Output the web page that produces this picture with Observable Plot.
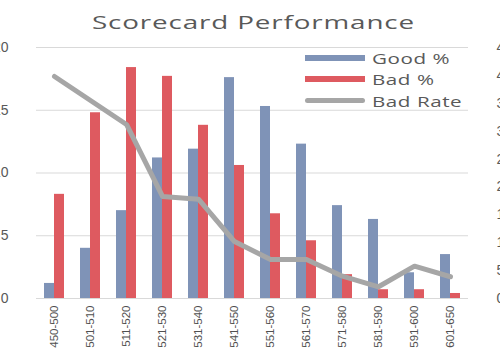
<!DOCTYPE html>
<html>
<head>
<meta charset="utf-8">
<script src="https://cdn.jsdelivr.net/npm/d3@7"></script>
<script src="https://cdn.jsdelivr.net/npm/@observablehq/plot@0.6"></script>
<style>
  html, body { margin: 0; padding: 0; background: #fff; overflow: hidden; }
  #wrap { position: relative; width: 500px; height: 350px; font-family: "Open Sans", sans-serif; }
  #titlebox { height: 36px; position: relative; }
  #title { position: absolute; left: 92px; top: 8px; font-size: 19px; letter-spacing: 0.6px; color: #595959; white-space: nowrap; transform-origin: left top; line-height: 28px; }
  #legend { position: absolute; left: 305px; top: 47px; font-size: 15px; color: #595959; white-space: nowrap; }
  .li { display: flex; align-items: center; height: 21.5px; }
  .sw { width: 60px; margin-right: 7px; flex: none; }
  .lt { display: inline-block; transform-origin: left center; letter-spacing: 0.4px; }
  svg { display: block; }
</style>
</head>
<body>
<div id="wrap">
  <div id="titlebox"><span id="title">Scorecard Performance</span></div>
  <div id="legend"></div>
  <div id="chart"></div>
</div>
<script>
const categories = ["450-500","501-510","511-520","521-530","531-540","541-550","551-560","561-570","571-580","581-590","591-600","601-650"];
const goodPct = [1.2, 4.0, 7.0, 11.2, 11.9, 17.6, 15.3, 12.3, 7.4, 6.3, 2.05, 3.5];
const badPct  = [8.3, 14.8, 18.4, 17.7, 13.8, 10.6, 6.75, 4.6, 1.9, 0.7, 0.7, 0.4];
const badRate = [39.8, 35.5, 31.2, 18.3, 17.8, 10.2, 7.0, 7.0, 4.0, 2.1, 5.8, 3.9];
const leftTicks = [0, 5, 10, 15, 20];
const rightTicks = [0, 5, 10, 15, 20, 25, 30, 35, 40, 45];
const seriesNames = ["Good %", "Bad %", "Bad Rate"];
const colors = ["#7f93b7", "#de5a60", "#a6a6a6"];

const leftMax = 20, rightMax = 45;
const toLeft = v => v * leftMax / rightMax;

const rows = categories.map((c, i) => ({cat: c, good: goodPct[i], bad: badPct[i], rate: badRate[i]}));

const chart = Plot.plot({
  width: 500,
  height: 314,
  marginLeft: 36,
  marginRight: 32,
  marginTop: 11,
  marginBottom: 52,
  style: {fontFamily: "Liberation Sans, Arial, sans-serif", color: "#595959", overflow: "visible"},
  x: {type: "band", domain: categories, paddingInner: 0.44, paddingOuter: 0.22, axis: null},
  y: {domain: [0, leftMax], axis: null},
  marks: [
    Plot.ruleY(leftTicks, {stroke: "#d9d9d9", strokeWidth: 1.2}),
    Plot.barY(rows, {x: "cat", y: "good", fill: colors[0], insetRight: 10}),
    Plot.barY(rows, {x: "cat", y: "bad", fill: colors[1], insetLeft: 10}),
    Plot.lineY(rows, {x: "cat", y: d => toLeft(d.rate), stroke: colors[2], strokeWidth: 5, strokeLinejoin: "round", strokeLinecap: "round"}),
    Plot.axisY(leftTicks, {anchor: "left", tickSize: 0, tickPadding: 28, fontSize: 14, tickFormat: d => String(d), label: null}),
    Plot.axisY(rightTicks.map(toLeft), {anchor: "right", tickSize: 0, tickPadding: 28, fontSize: 14, tickFormat: d => Math.round(d * rightMax / leftMax) + "%", label: null}),
    Plot.axisX(categories, {anchor: "bottom", tickSize: 0, tickPadding: 7, tickRotate: -90, fontSize: 11.5, fill: "#505050", label: null})
  ]
});
document.getElementById("chart").appendChild(chart);

// stretch title horizontally to span like the reference
const title = document.getElementById("title");
title.style.transform = `scaleX(${323 / title.getBoundingClientRect().width})`;

const legend = document.getElementById("legend");
const texts = [];
seriesNames.forEach((name, i) => {
  const row = document.createElement("div");
  row.className = "li";
  const sw = document.createElement("div");
  sw.className = "sw";
  sw.style.height = i < 2 ? "6px" : "5px";
  sw.style.background = colors[i];
  if (i === 2) sw.style.borderRadius = "3px";
  row.appendChild(sw);
  const t = document.createElement("span");
  t.className = "lt";
  t.textContent = name;
  row.appendChild(t);
  legend.appendChild(row);
  texts.push(t);
});
const k = 78 / texts[0].getBoundingClientRect().width;
texts.forEach(t => t.style.transform = `scaleX(${k})`);
</script>
</body>
</html>
